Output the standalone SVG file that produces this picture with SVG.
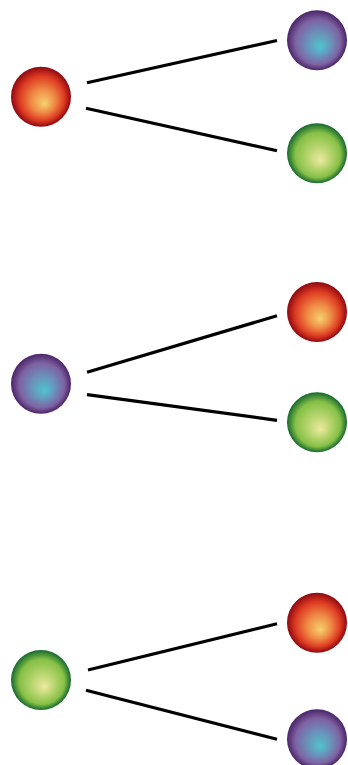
<svg xmlns="http://www.w3.org/2000/svg" width="348" height="765" viewBox="0 0 348 765">
<defs>
<radialGradient id="gRed" cx="0.5" cy="0.5" r="0.5" fx="0.56" fy="0.62">
<stop offset="0" stop-color="#f6d270"/>
<stop offset="0.4" stop-color="#ef8a45"/>
<stop offset="0.75" stop-color="#dd3a22"/>
<stop offset="1" stop-color="#8e0810"/>
</radialGradient>
<radialGradient id="gPurple" cx="0.5" cy="0.5" r="0.5" fx="0.56" fy="0.62">
<stop offset="0" stop-color="#4ec4d0"/>
<stop offset="0.4" stop-color="#6a92ba"/>
<stop offset="0.75" stop-color="#7e62a2"/>
<stop offset="1" stop-color="#4a2468"/>
</radialGradient>
<radialGradient id="gGreen" cx="0.5" cy="0.5" r="0.5" fx="0.56" fy="0.62">
<stop offset="0" stop-color="#eeeaa0"/>
<stop offset="0.4" stop-color="#b4d46c"/>
<stop offset="0.75" stop-color="#86c046"/>
<stop offset="1" stop-color="#16692e"/>
</radialGradient>
<style>
.edge{stroke:#000;stroke-width:3.2;fill:none;stroke-linecap:butt}
</style>
</defs>
<g id="connectors">
<line class="edge" x1="87" y1="82.7" x2="277" y2="40.5"/>
<line class="edge" x1="86" y1="108.3" x2="277" y2="150.7"/>
<line class="edge" x1="87" y1="372.3" x2="277" y2="315.7"/>
<line class="edge" x1="87" y1="394.7" x2="277" y2="420.3"/>
<line class="edge" x1="88" y1="670" x2="277" y2="623.7"/>
<line class="edge" x1="86" y1="690.3" x2="277" y2="739.3"/>
</g>
<g id="n1"><circle cx="41" cy="96.7" r="30" fill="url(#gRed)"/></g>
<g id="n2"><circle cx="317" cy="40.3" r="30" fill="url(#gPurple)"/></g>
<g id="n3"><circle cx="317" cy="153.3" r="30" fill="url(#gGreen)"/></g>
<g id="n4"><circle cx="41" cy="383.7" r="30" fill="url(#gPurple)"/></g>
<g id="n5"><circle cx="317" cy="312" r="30" fill="url(#gRed)"/></g>
<g id="n6"><circle cx="317" cy="422.3" r="30" fill="url(#gGreen)"/></g>
<g id="n7"><circle cx="41" cy="680" r="30" fill="url(#gGreen)"/></g>
<g id="n8"><circle cx="317" cy="622.7" r="30" fill="url(#gRed)"/></g>
<g id="n9"><circle cx="317" cy="739.3" r="30" fill="url(#gPurple)"/></g>
</svg>
